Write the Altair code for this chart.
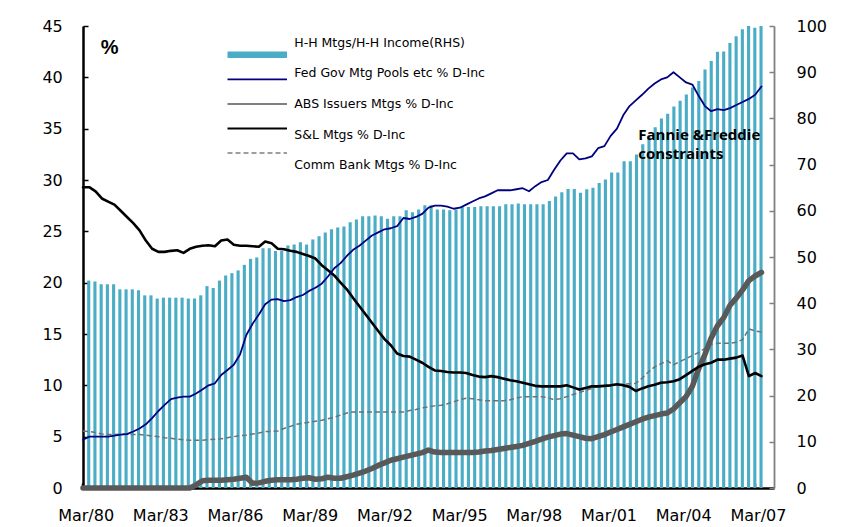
import altair as alt
import pandas as pd

# ---------------- categories ----------------
quarters = [f"{m}/{y % 100:02d}" for y in range(1980, 2008) for m in ["Mar", "Jun", "Sep", "Dec"]][:111]
x_labels = ["Mar/80", "Mar/83", "Mar/86", "Mar/89", "Mar/92", "Mar/95", "Mar/98", "Mar/01", "Mar/04", "Mar/07"]

# ---------------- series (Mar/80 .. Mar/07, quarterly) ----------------
hh_income = [
    44.9, 44.7, 44.1, 44.1, 44.1, 43.0, 43.0, 43.0, 42.8, 41.7, 41.7, 41.0, 41.2, 41.2, 41.2, 41.2,
    41.0, 41.0, 41.7, 43.7, 43.3, 44.9, 46.0, 46.5, 47.1, 48.3, 49.6, 49.9,
    51.9, 51.9, 51.3, 51.3, 52.5, 52.7, 53.2, 52.7, 53.8, 54.5, 55.3, 56.0, 56.4, 56.6, 57.5, 58.1,
    58.8, 58.8, 59.0,
    58.8, 58.3, 58.8, 58.8, 60.1, 59.7, 60.3, 61.2, 61.2, 60.3, 60.3, 60.1, 60.3, 60.8, 60.8, 60.8,
    61.0, 61.0, 61.0, 61.0, 61.4, 61.4, 61.6, 61.4, 61.4, 61.4, 61.4, 62.1, 63.1, 64.0, 64.7, 64.7,
    63.9, 64.65, 65.0, 66.0, 66.8, 68.3, 68.3, 70.7, 70.7, 72.2, 74.4, 76.0, 78.1, 80.0, 81.0, 82.6,
    83.8, 85.2, 86.7, 88.1, 90.6, 92.4, 94.4, 94.5, 96.3, 97.8, 99.3, 100.0, 99.6, 100.0,
]
fed_gov = [
    4.7, 5.0, 5.0, 5.0, 5.0, 5.1, 5.2, 5.25, 5.5, 5.8, 6.2, 6.8, 7.5, 8.1, 8.65, 8.8,
    8.9, 8.9, 9.2, 9.6, 10.0, 10.2, 11.0, 11.5, 12.0, 13.0, 14.9, 16.0, 16.9, 17.9, 18.35, 18.4,
    18.2, 18.3, 18.6, 18.8, 19.2, 19.5, 19.9, 20.6, 21.4, 21.9, 22.6, 23.2, 23.6, 24.1, 24.6, 24.9,
    25.2, 25.3, 25.5, 26.3, 26.2, 26.4, 26.7, 27.3, 27.5, 27.5, 27.4, 27.2, 27.3, 27.6, 27.9, 28.2,
    28.4, 28.7, 29.0, 29.0, 29.0, 29.1, 29.2, 28.9, 29.4, 29.8, 30.0, 31.0, 31.9, 32.6, 32.6, 32.0,
    32.1, 32.3, 33.1, 33.3, 34.3, 35.0, 36.3, 37.2, 37.75, 38.3, 38.9, 39.4, 39.8, 40.0, 40.5, 40.0,
    39.5, 39.3, 38.2, 37.2, 36.7, 36.9, 36.8, 37.0, 37.3, 37.6, 37.9, 38.3, 39.1,
]
abs_issuers = [
    0, 0, 0, 0, 0, 0, 0, 0, 0, 0, 0, 0, 0, 0, 0, 0, 0, 0, 0.3, 0.7, 0.75, 0.75, 0.75, 0.8,
    0.85, 0.95, 1.05, 0.45, 0.5, 0.65, 0.75, 0.8, 0.8, 0.8, 0.85, 0.95, 1.0, 0.85, 0.9, 1.05,
    0.95, 0.95, 1.1, 1.25, 1.45, 1.65, 1.9, 2.2, 2.45, 2.7, 2.85, 3.0, 3.15, 3.3, 3.45, 3.7,
    3.5, 3.46, 3.46, 3.46, 3.46, 3.46, 3.46, 3.5, 3.6, 3.65, 3.75, 3.85, 3.95, 4.05, 4.15, 4.35,
    4.55, 4.75, 4.95, 5.1, 5.25, 5.3, 5.15, 5.0, 4.85, 4.8, 5.0, 5.2, 5.45, 5.7, 5.95, 6.2,
    6.45, 6.7, 6.9, 7.05, 7.2, 7.3, 7.7, 8.3, 8.9, 9.9, 11.6, 13.0, 14.6, 15.8, 16.6, 17.8,
    18.5, 19.3, 20.2, 20.65, 21.0,
]
sl_mtgs = [
    29.3, 29.3, 28.9, 28.2, 27.9, 27.6, 27.0, 26.4, 25.8, 25.1, 24.1, 23.3, 23.0, 23.0, 23.1, 23.15,
    22.9, 23.3, 23.5, 23.6, 23.65, 23.55, 24.1, 24.2, 23.7, 23.6, 23.6, 23.55, 23.5, 24.0, 23.85, 23.3,
    23.25, 23.1, 23.0, 22.8, 22.6, 22.35, 21.7, 21.2, 20.7, 20.0, 19.35, 18.5, 17.7, 16.9, 16.1, 15.3,
    14.5, 13.9, 13.1, 12.85, 12.8, 12.5, 12.2, 11.8, 11.45, 11.4, 11.3, 11.25, 11.25, 11.2, 11.0, 10.85,
    10.8, 10.9, 10.8, 10.65, 10.5, 10.4, 10.25, 10.1, 9.95, 9.9, 9.9, 9.9, 9.9, 10.0, 9.8, 9.6,
    9.75, 9.9, 9.9, 9.95, 10.0, 10.1, 10.0, 9.85, 9.45, 9.7, 9.9, 10.05, 10.25, 10.3, 10.4, 10.6,
    11.0, 11.4, 11.8, 12.05, 12.2, 12.5, 12.5, 12.6, 12.7, 12.9, 10.9, 11.2, 10.9,
]
comm_bank = [
    5.55, 5.5, 5.4, 5.25, 5.2, 5.2, 5.25, 5.25, 5.2, 5.2, 5.15, 5.05, 5.0, 4.9, 4.85, 4.75,
    4.7, 4.65, 4.65, 4.65, 4.7, 4.75, 4.8, 4.9, 5.0, 5.1, 5.15, 5.25, 5.35, 5.5, 5.5, 5.55,
    5.8, 6.0, 6.2, 6.3, 6.4, 6.5, 6.6, 6.75, 6.9, 7.1, 7.3, 7.4, 7.4, 7.4, 7.4, 7.4,
    7.4, 7.4, 7.4, 7.4, 7.55, 7.65, 7.8, 7.9, 8.0, 8.05, 8.2, 8.4, 8.6, 8.75, 8.7, 8.6,
    8.5, 8.5, 8.5, 8.5, 8.6, 8.75, 8.9, 8.9, 8.9, 8.9, 8.8, 8.6, 8.7, 8.9, 9.1, 9.3,
    9.5, 9.7, 9.9, 9.95, 10.0, 10.05, 10.1, 10.15, 10.2, 10.7, 11.3, 11.8, 12.1, 12.4, 12.0, 12.3,
    12.6, 12.9, 13.2, 13.6, 14.0, 14.1, 14.1, 14.1, 14.2, 14.45, 15.5, 15.3, 15.2,
]

legend_names = [
    "H-H Mtgs/H-H Income(RHS)",
    "Fed Gov Mtg Pools etc % D-Inc",
    "ABS Issuers Mtgs % D-Inc",
    "S&L Mtgs % D-Inc",
    "Comm Bank Mtgs % D-Inc",
]
legend_colors = ["#4BACC6", "#000080", "#7F7F7F", "#000000", "#7F7F7F"]
legend_widths = [6.5, 1.8, 2.0, 2.2, 1.5]
legend_dashes = [[1, 0], [1, 0], [1, 0], [1, 0], [5, 3]]

annotation_lines = ["Fannie &Freddie", "constraints"]

# ---------------- tables ----------------
n = len(hh_income)
bars_df = pd.DataFrame({"quarter": quarters[:n], "value": hh_income})
series_map = {
    "fed": fed_gov,
    "abs": abs_issuers,
    "sl": sl_mtgs,
    "comm": comm_bank,
}
rows = []
for key, vals in series_map.items():
    for i, v in enumerate(vals):
        rows.append({"series": key, "idx": i, "value": v, "quarter": quarters[i]})
lines_df = pd.DataFrame(rows)
legend_df = pd.DataFrame({
    "name": legend_names,
    "color": legend_colors,
    "width": legend_widths,
    "dash": legend_dashes,
})
ann_df = pd.DataFrame({"idx": [88.4, 88.4], "value": [33.9, 32.05], "text": annotation_lines})

FONT = "DejaVu Sans"
NEG_TICK = alt.ExprRef(expr="-5")

# ---------------- bars (right axis) ----------------
bars = alt.Chart(bars_df).mark_bar(color="#4BACC6", xOffset=2.6).encode(
    x=alt.X(
        "quarter:N",
        sort=quarters,
        scale=alt.Scale(domain=quarters, paddingInner=0.5, paddingOuter=0.25),
        axis=alt.Axis(
            values=x_labels, bandPosition=-0.5, labelAngle=0, title=None,
            domainColor="#000000", domainWidth=2.5,
            tickColor="#000000", tickWidth=1.5, tickSize=NEG_TICK,
            labelFont=FONT, labelFontSize=16, labelColor="#000000",
            labelPadding=24, labelOverlap=False, labelBound=False, grid=False,
        ),
    ),
    y=alt.Y(
        "value:Q",
        scale=alt.Scale(domain=[0, 100], nice=False, zero=True),
        axis=alt.Axis(
            orient="right", values=list(range(0, 101, 10)), title=None,
            domainColor="#808080", domainWidth=1.8,
            tickColor="#808080", tickWidth=1.5, tickSize=NEG_TICK,
            labelFont=FONT, labelFontSize=16, labelColor="#000000",
            labelPadding=27, labelAlign="left", grid=False,
        ),
    ),
)

xq = alt.X("idx:Q", scale=alt.Scale(domain=[0, 110], nice=False, zero=False), axis=None)
yscale = alt.Scale(domain=[0, 45], nice=False, zero=True)

left_axis = alt.Axis(
    orient="left", values=list(range(0, 46, 5)),
    domainColor="#000000", domainWidth=2.5,
    tickColor="#000000", tickWidth=1.5, tickSize=NEG_TICK,
    labelFont=FONT, labelFontSize=16, labelColor="#000000", labelPadding=25.7,
    grid=False,
    title="%", titleAngle=0, titleX=17.3, titleY=27, titleAlign="left",
    titleBaseline="alphabetic", titleFont="Liberation Sans", titleFontSize=20,
    titleFontWeight="bold", titleColor="#000000",
)


def line_layer(key, color, width, dash=None, axis=None):
    kw = dict(color=color, strokeWidth=width, strokeJoin="round", strokeCap="round")
    if dash is not None:
        kw["strokeDash"] = dash
        kw["strokeCap"] = "butt"
    enc_y = alt.Y("value:Q", scale=yscale, axis=axis) if axis is not None else alt.Y("value:Q", scale=yscale, axis=None)
    return alt.Chart(lines_df).transform_filter(alt.datum.series == key).mark_line(**kw).encode(
        x=xq, y=enc_y, order="idx:Q"
    )


comm_line = line_layer("comm", "#707070", 1.5, dash=[5, 3], axis=left_axis)
abs_line = line_layer("abs", "#595959", 5.5)
sl_line = line_layer("sl", "#000000", 2.6)
fed_line = line_layer("fed", "#000080", 1.8)

# ---------------- legend (drawn as marks) ----------------
ly = alt.Y("name:N", sort=legend_names,
           scale=alt.Scale(domain=legend_names, range=[16.6, 139.3], padding=0), axis=None)
legend_sym = alt.Chart(legend_df).mark_rule().encode(
    x=alt.value(144.5), x2=alt.value(204.0), y=ly,
    color=alt.Color("color:N", scale=None),
    strokeWidth=alt.StrokeWidth("width:Q", scale=None),
    strokeDash=alt.StrokeDash("dash:N", scale=None),
)
legend_txt = alt.Chart(legend_df).mark_text(
    align="left", baseline="middle", font=FONT, fontSize=12.5, color="#000000"
).encode(x=alt.value(211.3), y=ly, text="name:N")

# ---------------- annotation ----------------
ann = alt.Chart(ann_df).mark_text(
    align="left", baseline="alphabetic", font="Open Sans", fontSize=15,
    fontWeight="bold", color="#000000",
).encode(
    x=alt.X("idx:Q", scale=alt.Scale(domain=[0, 110], nice=False, zero=False), axis=None),
    y=alt.Y("value:Q", scale=yscale, axis=None),
    text="text:N",
)

chart = alt.layer(
    bars, comm_line, abs_line, sl_line, fed_line, legend_sym, legend_txt, ann
).resolve_scale(
    x="independent", y="independent"
).properties(
    width=691, height=462,
    autosize=alt.AutoSizeParams(type="none"),
    padding={"left": 75, "top": 18, "right": 66, "bottom": 37},
    background="#FFFFFF",
).configure_view(stroke=None)

chart.save("out.html", embed_options={"renderer": "svg", "actions": False})
